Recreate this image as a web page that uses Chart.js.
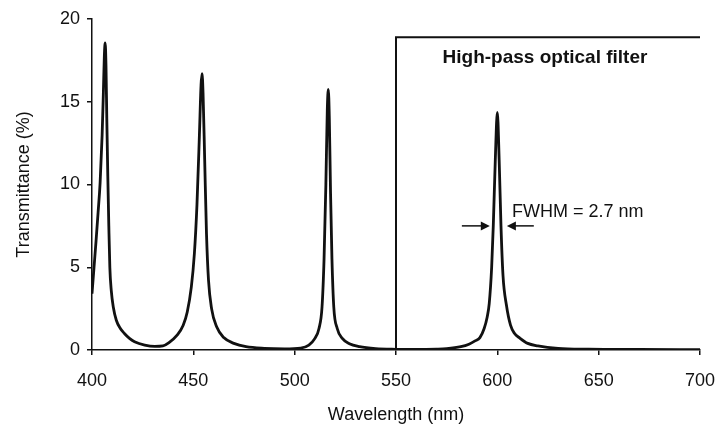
<!DOCTYPE html>
<html>
<head>
<meta charset="utf-8">
<script src="https://cdn.jsdelivr.net/npm/chart.js@4/dist/chart.umd.min.js"></script>
<style>
  html, body { margin: 0; padding: 0; background: #fff; }
  #wrap { width: 718px; height: 428px; }
</style>
</head>
<body>
<div id="wrap"><canvas id="specChart" width="718" height="428"></canvas></div>
<script>
// values (wavelength nm, transmittance %)
const wavelength = [
  400, 401, 402, 403, 404, 405, 405.6, 406.1, 406.5, 406.9, 407.3, 407.8, 408.3, 408.8, 409.5, 410.5, 412, 414, 416, 418.5, 421, 426, 431,
  435, 438, 442, 445, 447, 449, 450.5, 451.8, 453, 453.8, 454.3, 454.8, 455.6, 456.5, 457.5, 459, 461.5, 465, 470, 476, 485, 495,
  503, 507, 510, 512, 513.5, 514.5, 515.4, 516.1, 516.6, 517.1, 517.7, 518.4, 519.3, 521, 523.5, 527, 532, 540, 550, 560, 570,
  575, 582, 586, 589, 591.4, 593.5, 595, 596, 597.2, 598, 599, 600, 600.9, 601.8, 602.8, 604.5, 606.5, 608.5, 611, 615, 620, 630,
  645, 670, 700];
const transmittance = [
  3.4, 5.0, 6.6, 8.3, 10.1, 13.0, 15.5, 17.8, 18.55, 17.2, 14.0, 10.5, 7.5, 5.0, 3.6, 2.6, 1.8, 1.3, 1.0, 0.7, 0.5, 0.3, 0.22,
  0.25, 0.45, 0.9, 1.5, 2.3, 3.8, 5.8, 8.8, 13.0, 16.0, 16.7, 15.5, 11.5, 7.0, 4.2, 2.5, 1.4, 0.75, 0.4, 0.2, 0.1, 0.07,
  0.12, 0.3, 0.7, 1.3, 2.6, 5.5, 10.0, 14.5, 15.75, 14.0, 9.5, 5.5, 2.6, 1.3, 0.7, 0.38, 0.2, 0.08, 0.04, 0.03, 0.05,
  0.08, 0.2, 0.35, 0.55, 0.75, 1.3, 2.0, 2.8, 5.0, 7.5, 11.5, 14.35, 11.5, 7.5, 4.5, 2.7, 1.5, 1.0, 0.73, 0.4, 0.25, 0.1,
  0.05, 0.03, 0.02];

const filterX = [550, 550, 700];
const filterY = [0, 18.9, 18.9];

const xTicks = [400, 450, 500, 550, 600, 650, 700];
const yTicks = [0, 5, 10, 15, 20];

const filterLabel = 'High-pass optical filter';
const fwhmLabel = 'FWHM = 2.7 nm';

const ink = '#111';
const fontName = '"Liberation Sans", Arial, sans-serif';

// text + arrows placed in data coordinates
const notes = {
  id: 'notes',
  afterDatasetsDraw(chart) {
    const { ctx, scales: { x, y } } = chart;
    ctx.save();
    ctx.fillStyle = ink;
    ctx.strokeStyle = ink;

    ctx.font = 'bold 19px ' + fontName;
    ctx.textAlign = 'center';
    ctx.textBaseline = 'middle';
    ctx.fillText(filterLabel, x.getPixelForValue(623.5), y.getPixelForValue(17.64));

    ctx.font = '18px ' + fontName;
    ctx.textAlign = 'left';
    ctx.fillText(fwhmLabel, x.getPixelForValue(607.2), y.getPixelForValue(8.34));

    const ay = y.getPixelForValue(7.5);
    const arrow = (from, to) => {
      const x0 = x.getPixelForValue(from), x1 = x.getPixelForValue(to);
      const dir = Math.sign(x1 - x0);
      ctx.lineWidth = 1.5;
      ctx.beginPath();
      ctx.moveTo(x0, ay);
      ctx.lineTo(x1 - dir * 7, ay);
      ctx.stroke();
      ctx.beginPath();
      ctx.moveTo(x1, ay);
      ctx.lineTo(x1 - dir * 9, ay - 4.5);
      ctx.lineTo(x1 - dir * 9, ay + 4.5);
      ctx.closePath();
      ctx.fill();
    };
    arrow(582.5, 596.3);
    arrow(618, 604.7);
    ctx.restore();
  }
};

const ctx = document.getElementById('specChart').getContext('2d');
const specChart = new Chart(ctx, {
  type: 'line',
  data: {
    datasets: [{
      label: 'Transmittance',
      data: wavelength.map((w, i) => ({ x: w, y: transmittance[i] })),
      borderColor: ink,
      borderWidth: 2.8,
      pointRadius: 0,
      cubicInterpolationMode: 'monotone',
      fill: false
    }, {
      label: 'Filter',
      data: filterX.map((w, i) => ({ x: w, y: filterY[i] })),
      borderColor: ink,
      borderWidth: 2,
      pointRadius: 0,
      tension: 0,
      fill: false
    }]
  },
  plugins: [notes],
  options: {
    responsive: false,
    animation: false,
    layout: { padding: { left: 0, right: 18, top: 19, bottom: 0 } },
    plugins: { legend: { display: false }, tooltip: { enabled: false } },
    scales: {
      x: {
        type: 'linear',
        min: 400,
        max: 700,
        afterFit: (s) => { s.height = 78; s.paddingLeft = 0; s.paddingRight = 0; },
        afterBuildTicks: (s) => { s.ticks = xTicks.map(v => ({ value: v })); },
        ticks: { color: ink, font: { family: fontName, size: 18 }, padding: 15, maxRotation: 0 },
        grid: { drawOnChartArea: false, drawTicks: true, tickLength: 5, color: ink, lineWidth: 1.5 },
        border: { display: true, color: ink, width: 1.5 },
        title: { display: true, text: 'Wavelength (nm)', color: ink, font: { family: fontName, size: 18 }, padding: { top: 0, bottom: 2 } }
      },
      y: {
        min: 0,
        max: 20,
        afterFit: (s) => { s.width = 92; s.paddingTop = 0; s.paddingBottom = 0; },
        afterBuildTicks: (s) => { s.ticks = yTicks.map(v => ({ value: v })); },
        ticks: { color: ink, font: { family: fontName, size: 18 }, padding: 7 },
        grid: { drawOnChartArea: false, drawTicks: true, tickLength: 5, color: ink, lineWidth: 1.5 },
        border: { display: true, color: ink, width: 1.5 },
        title: { display: true, text: 'Transmittance (%)', color: ink, font: { family: fontName, size: 18 }, padding: { top: 13, bottom: 0 } }
      }
    }
  }
});
</script>
</body>
</html>
